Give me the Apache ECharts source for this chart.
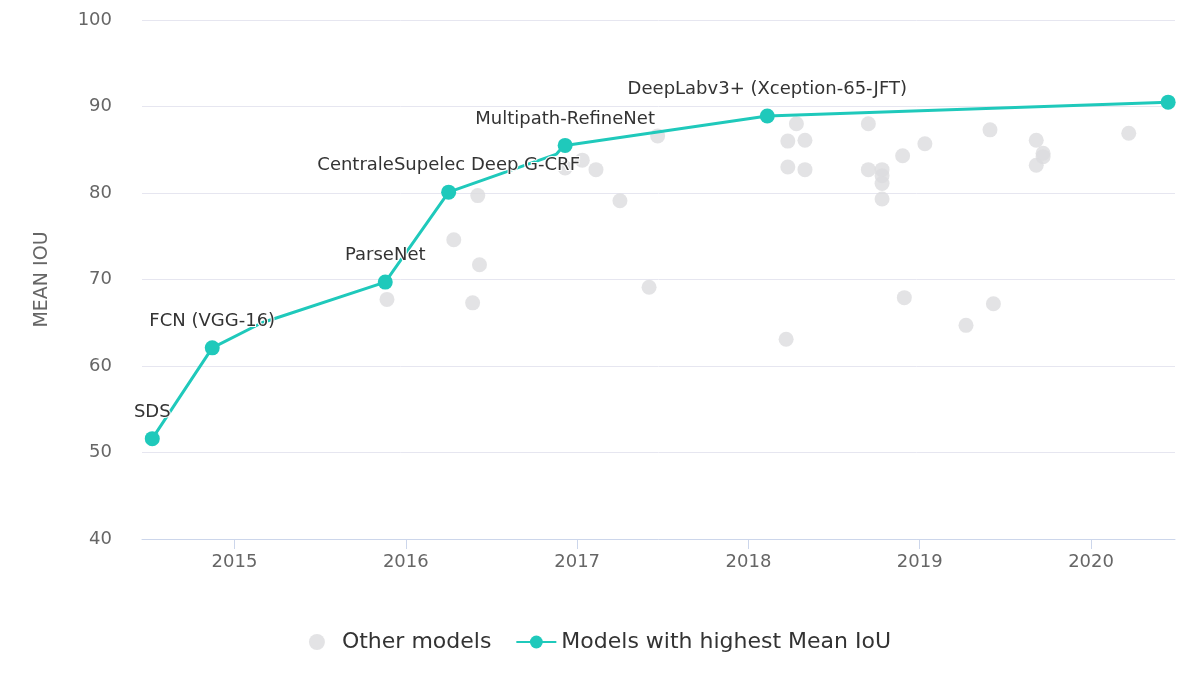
<!DOCTYPE html><html><head><meta charset="utf-8"><script src="https://cdn.jsdelivr.net/npm/echarts@6/dist/echarts.min.js"></script></head><body style="margin:0"><div id="c" style="width:1200px;height:700px"></div><script>
const bestX=[2014.52,2014.87,2015.16,2015.88,2016.25,2016.88,2016.91,2016.93,2018.11,2020.45];
const bestY=[51.6,62.1,65.0,69.7,80.1,84.5,85.2,85.5,88.9,90.5];
const bestNames=['SDS','FCN (VGG-16)','','ParseNet','CentraleSupelec Deep G-CRF','','','Multipath-RefineNet','DeepLabv3+ (Xception-65-JFT)',''];
const otherX=[2015.89,2016.28,2016.39,2016.42,2016.43,2016.93,2017.03,2017.11,2017.25,2017.42,2017.47,2018.22,2018.23,2018.23,2018.28,2018.33,2018.33,2018.70,2018.70,2018.78,2018.78,2018.78,2018.78,2018.90,2018.91,2019.03,2019.27,2019.41,2019.43,2019.68,2019.68,2019.72,2019.72,2020.22];
const otherY=[67.7,74.6,67.3,79.7,71.7,82.9,83.8,82.7,79.1,69.1,86.6,63.1,86.0,83.0,88.0,86.1,82.7,88.0,82.7,82.7,82.0,81.1,79.3,84.3,67.9,85.7,64.7,87.3,67.2,86.1,83.2,84.6,84.2,86.9];
const years=[2015,2016,2017,2018,2019,2020];
const F='DejaVu Sans';
const c=echarts.init(document.getElementById('c'));
c.setOption({
 animation:false,
 grid:{left:142,right:25,top:20,bottom:161},
 xAxis:{type:'value',min:2014.46,max:2020.49,
  axisLine:{show:true,lineStyle:{color:'#ccd6eb'}},
  axisTick:{show:true,customValues:years,length:10,lineStyle:{color:'#ccd6eb'}},
  axisLabel:{customValues:years,formatter:v=>String(Math.round(v)),color:'#666',fontSize:18,margin:14,fontFamily:F},
  splitLine:{show:false}},
 yAxis:{type:'value',min:40,max:100,interval:10,name:'MEAN IOU',nameLocation:'middle',nameGap:90,
  nameTextStyle:{color:'#666',fontSize:19,fontFamily:F},
  axisLabel:{color:'#666',fontSize:18,margin:30,fontFamily:F},
  splitLine:{lineStyle:{color:'#e6e6f0'}},axisLine:{show:false},axisTick:{show:false}},
 legend:{bottom:42,left:'center',itemGap:24,textStyle:{fontSize:22,color:'#333',fontFamily:F},itemWidth:40,itemHeight:16,
  data:[{name:'Other models',icon:'circle'},{name:'Models with highest Mean IoU'}]},
 series:[
  {name:'Other models',type:'scatter',symbolSize:15,itemStyle:{color:'#dcdcdf'},
   data:otherX.map((x,i)=>[x,otherY[i]])},
  {name:'Models with highest Mean IoU',type:'line',symbol:'circle',symbolSize:15,showAllSymbol:true,
   itemStyle:{color:'#1fc9bb'},lineStyle:{width:3,color:'#1fc9bb'},
   data:bestX.map((x,i)=>({value:[x,bestY[i]],name:bestNames[i],symbolSize:[2,5,6].includes(i)?0:15})),
   label:{show:true,position:'top',distance:10,formatter:p=>p.name,fontSize:18,color:'#333',fontFamily:F,textBorderColor:'#fff',textBorderWidth:2},z:3}
 ]});
</script></body></html>
